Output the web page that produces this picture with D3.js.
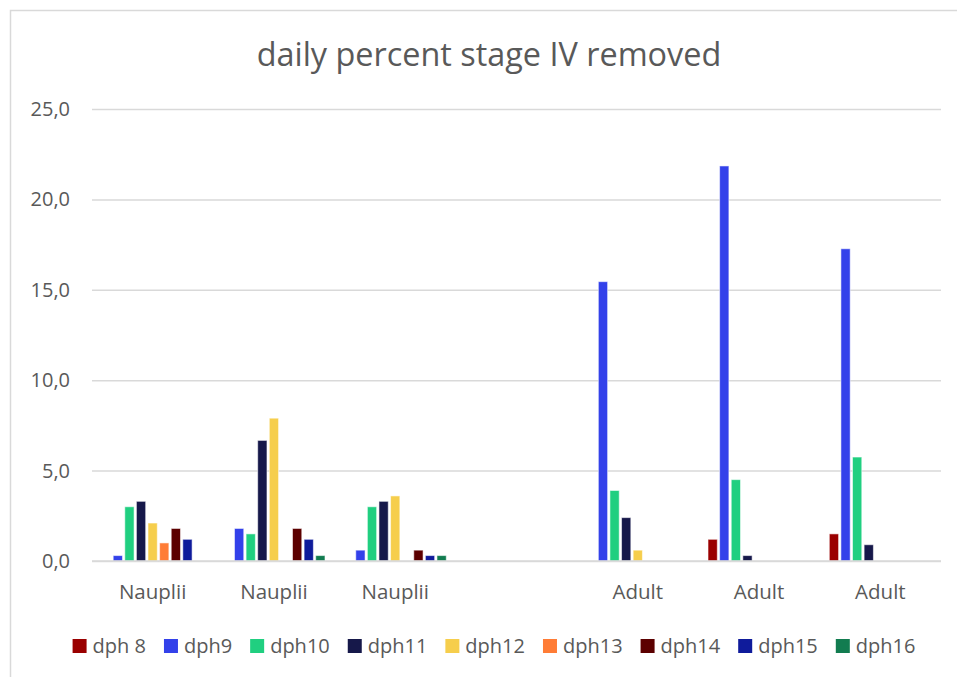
<!DOCTYPE html>
<html>
<head>
<meta charset="utf-8">
<script src="https://cdn.jsdelivr.net/npm/d3@7"></script>
<style>
  html, body { margin: 0; padding: 0; background: #fff; }
  svg { display: block; font-family: "Open Sans", Lato, sans-serif; }
</style>
</head>
<body>
<svg id="chart" width="957" height="677"></svg>
<script>
// ---- data ----
const categories = ["Nauplii", "Nauplii", "Nauplii", "", "Adult", "Adult", "Adult"];
const seriesNames = ["dph 8", "dph9", "dph10", "dph11", "dph12", "dph13", "dph14", "dph15", "dph16"];
const seriesColors = ["#9A0000", "#3341EA", "#20CF80", "#16184A", "#F6CE4C", "#FF7C35", "#5C0000", "#0F1B9B", "#127C50"];
// values per series, one per category (null = no bar)
const dph8  = [0,   0,   0,   null, 0,    1.2,  1.5];
const dph9  = [0.3, 1.8, 0.6, null, 15.45, 21.85, 17.27];
const dph10 = [3.0, 1.5, 3.0, null, 3.9,  4.5,  5.75];
const dph11 = [3.3, 6.67, 3.3, null, 2.4, 0.3,  0.9];
const dph12 = [2.1, 7.9, 3.6, null, 0.6,  0,    0];
const dph13 = [1.0, 0,   0,   null, 0,    0,    0];
const dph14 = [1.8, 1.8, 0.6, null, 0,    0,    0];
const dph15 = [1.2, 1.2, 0.3, null, 0,    0,    0];
const dph16 = [0,   0.3, 0.3, null, 0,    0,    0];
const seriesValues = [dph8, dph9, dph10, dph11, dph12, dph13, dph14, dph15, dph16];
const yTicks = [0, 5, 10, 15, 20, 25];
const title = "daily percent stage IV removed";

// ---- layout ----
const FONT = "'Open Sans', Lato, sans-serif";
const svg = d3.select("#chart");
const plot = { left: 92, right: 941, top: 109, bottom: 561 };
const textColor = "#595959";
const gridColor = "#D9D9D9";

// chart border
svg.append("rect")
  .attr("x", 10.5).attr("y", 10.5)
  .attr("width", 1000).attr("height", 1000)
  .attr("fill", "none").attr("stroke", gridColor).attr("stroke-width", 1.5);

// title
svg.append("text")
  .attr("x", 489).attr("y", 66)
  .attr("text-anchor", "middle")
  .attr("fill", textColor)
  .attr("font-size", 32.4)
  .text(title);

const y = d3.scaleLinear().domain([0, 25]).range([plot.bottom, plot.top]);
const x0 = d3.scaleBand()
  .domain(d3.range(categories.length))
  .range([plot.left, plot.right])
  .paddingInner(0.139).paddingOuter(0.0695);
const x1 = d3.scaleBand()
  .domain(d3.range(seriesNames.length))
  .range([0, x0.bandwidth()])
  .paddingInner(0.2).paddingOuter(0.1);

// gridlines + y axis labels
const yAxis = d3.axisLeft(y)
  .tickValues(yTicks)
  .tickSize(-(plot.right - plot.left))
  .tickPadding(22)
  .tickFormat(d => d3.format(".1f")(d).replace(".", ","));
const ga = svg.append("g").attr("transform", `translate(${plot.left},0)`).call(yAxis);
ga.select(".domain").remove();
ga.selectAll(".tick line").attr("stroke", gridColor).attr("stroke-width", 1.5);
ga.selectAll(".tick text")
  .attr("fill", textColor)
  .attr("font-size", 20)
  .attr("font-family", FONT);

// bars
const groups = svg.append("g").selectAll("g")
  .data(categories.map((c, i) => i))
  .join("g")
  .attr("transform", i => `translate(${x0(i)},0)`);
groups.selectAll("rect")
  .data(i => seriesValues.map((vals, s) => ({ s, v: vals[i] })).filter(d => d.v != null && d.v > 0))
  .join("rect")
  .attr("x", d => x1(d.s))
  .attr("width", x1.bandwidth())
  .attr("y", d => y(d.v))
  .attr("height", d => y(0) - y(d.v))
  .attr("fill", d => seriesColors[d.s])
  .attr("stroke", "#ffffff").attr("stroke-opacity", 0.55).attr("stroke-width", 1);

// x axis baseline
svg.append("line")
  .attr("x1", plot.left).attr("x2", plot.right)
  .attr("y1", y(0)).attr("y2", y(0))
  .attr("stroke", gridColor).attr("stroke-width", 1.5);

// category labels
const xAxis = d3.axisBottom(x0).tickSize(0).tickPadding(0)
  .tickFormat(i => categories[i]);
const gx = svg.append("g").attr("transform", `translate(0,${plot.bottom})`).call(xAxis);
gx.select(".domain").remove();
gx.selectAll(".tick text")
  .attr("y", 38).attr("dy", null)
  .attr("fill", textColor)
  .attr("font-size", 20.5)
  .attr("font-family", FONT);

// legend
const legend = svg.append("g");
const items = legend.selectAll("g").data(seriesNames).join("g");
items.append("rect")
  .attr("width", 14).attr("height", 14)
  .attr("y", 639)
  .attr("fill", (d, i) => seriesColors[i]);
items.append("text")
  .attr("x", 20).attr("y", 653)
  .attr("fill", textColor)
  .attr("font-size", 20)
  .text(d => d);
let cx = 0;
const offsets = [];
items.each(function () {
  const w = d3.select(this).select("text").node().getComputedTextLength();
  offsets.push(cx);
  cx += 20 + w + 18;
});
const total = cx - 18;
const startX = 494 - total / 2;
items.attr("transform", (d, i) => `translate(${startX + offsets[i]},0)`);
</script>
</body>
</html>
